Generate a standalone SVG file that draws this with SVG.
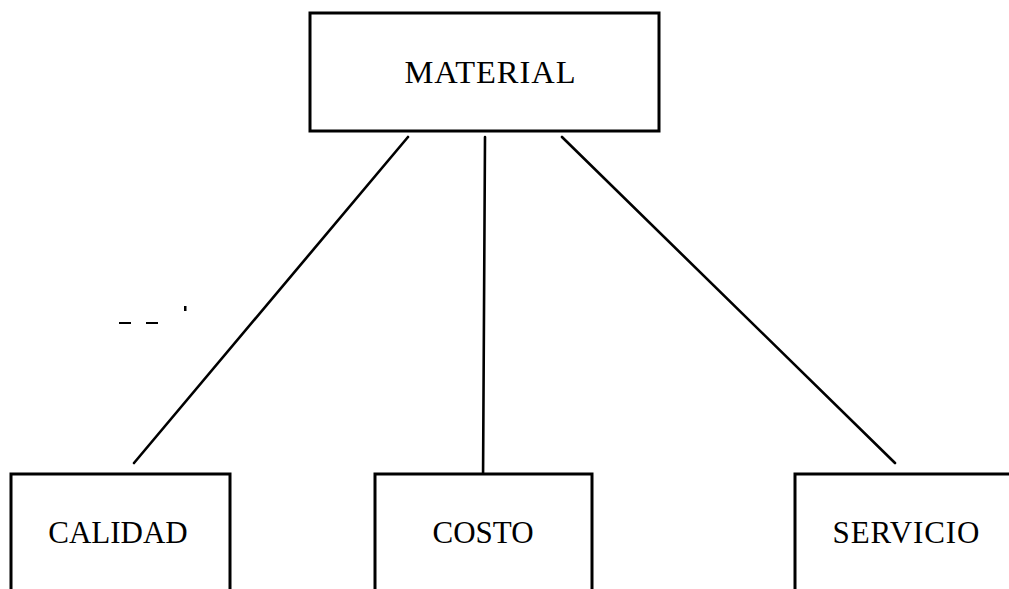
<svg xmlns="http://www.w3.org/2000/svg" width="1009" height="589" viewBox="0 0 1009 589">
  <style>
    .box { fill: #ffffff; stroke: #000000; stroke-width: 3; }
    .link { stroke: #000000; stroke-width: 2.6; fill: none; stroke-linecap: round; }
    .label { font-family: "Liberation Serif", "Times New Roman", serif; font-size: 31px; fill: #000000; text-anchor: middle; }
    .speck { fill: #000000; }
  </style>
  <rect x="0" y="0" width="1009" height="589" fill="#ffffff"/>

  <!-- connectors from the top box to the three boxes below -->
  <g id="connectors">
    <line class="link" x1="408" y1="137" x2="134" y2="463"/>
    <line class="link" x1="485" y1="137" x2="483" y2="484"/>
    <line class="link" x1="562" y1="137" x2="895" y2="463"/>
  </g>

  <g id="node-material">
    <rect class="box" x="310" y="13" width="349" height="118"/>
    <text class="label" x="490" y="83" style="font-size:32.5px" textLength="171" lengthAdjust="spacing">MATERIAL</text>
  </g>

  <g id="node-calidad">
    <rect class="box" x="11" y="474" width="219" height="130"/>
    <text class="label" x="118" y="543">CALIDAD</text>
  </g>

  <g id="node-costo">
    <rect class="box" x="375" y="474" width="217" height="130"/>
    <text class="label" x="483" y="543">COSTO</text>
  </g>

  <g id="node-servicio">
    <rect class="box" x="795" y="474" width="230" height="130"/>
    <text class="label" x="906" y="543" textLength="147" lengthAdjust="spacing">SERVICIO</text>
  </g>

  <!-- small stray marks left of the diagonal -->
  <g id="marks">
    <rect class="speck" x="184" y="306" width="2.5" height="5"/>
    <rect class="speck" x="119" y="322" width="12" height="2"/>
    <rect class="speck" x="146" y="322" width="12" height="2"/>
  </g>
</svg>
